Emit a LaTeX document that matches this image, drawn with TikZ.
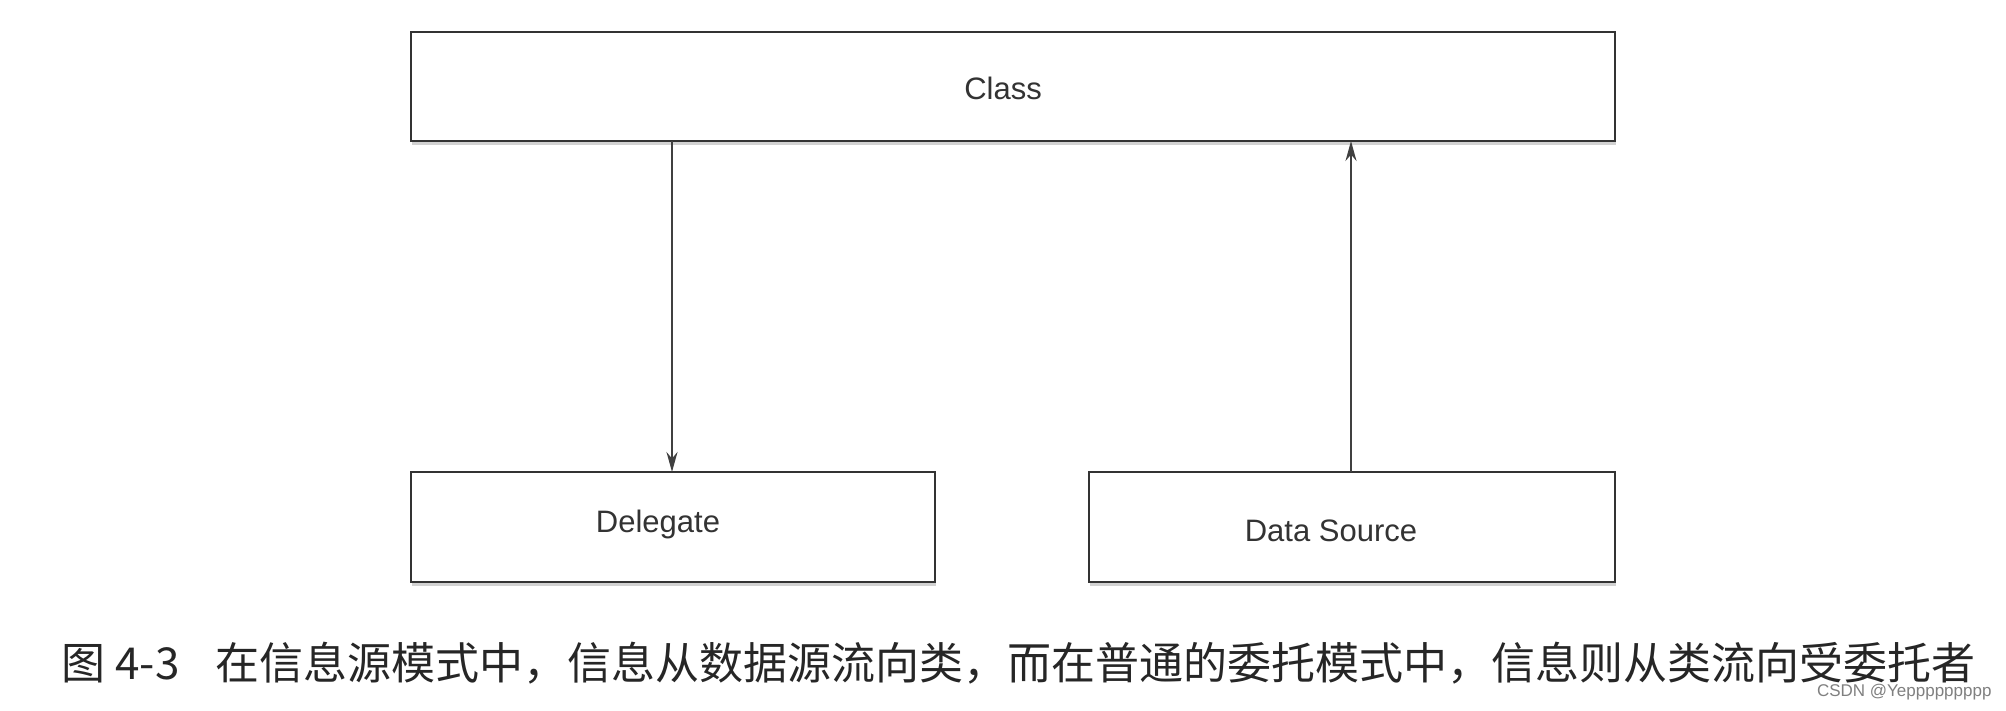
\documentclass[tikz,border=0pt]{standalone}
\usepackage{fontspec}
\setmainfont{Liberation Sans}
\newfontfamily\cjk{Noto Sans CJK SC}
\usetikzlibrary{arrows.meta,shadows}
\begin{document}
\begin{tikzpicture}[x=1pt,y=-1pt,
  box/.style={draw=black!80,line width=2.5pt,fill=white,inner sep=0pt,
    drop shadow={shadow xshift=1pt,shadow yshift=-4pt,fill=black!35}},
  lbl/.style={font=\fontsize{31}{31}\selectfont,text=black!80},
  arr/.style={draw=black!75,line width=2pt,-{Stealth[length=20pt,width=11pt]}}]
\useasboundingbox (0,0) rectangle (2006,710);
\fill[white] (0,0) rectangle (2006,710);
\node[box,minimum width=1204pt,minimum height=109pt] (class) at (1013,86.5) {};
\node[lbl] at (1003,88) {Class};
\node[box,minimum width=524pt,minimum height=110pt] (del) at (673,527) {};
\node[lbl] at (658,524) {Delegate};
\node[box,minimum width=526pt,minimum height=110pt] (ds) at (1352,527) {};
\node[lbl] at (1331,531) {Data Source};
\draw[arr] (672,141) -- (672,472);
\draw[arr] (1351,472) -- (1351,141);
\node[font=\cjk\fontsize{44}{44}\selectfont,text=black!85,anchor=west] (cap) at (58,663)
  {图 4-3\hspace{36pt}在信息源模式中，信息从数据源流向类，而在普通的委托模式中，信息则从类流向受委托者};
\node[font=\fontsize{17}{17}\selectfont,text=black!50,anchor=east] (wm) at (1995,692) {CSDN @Yeppppppppp};
\end{tikzpicture}
\end{document}
